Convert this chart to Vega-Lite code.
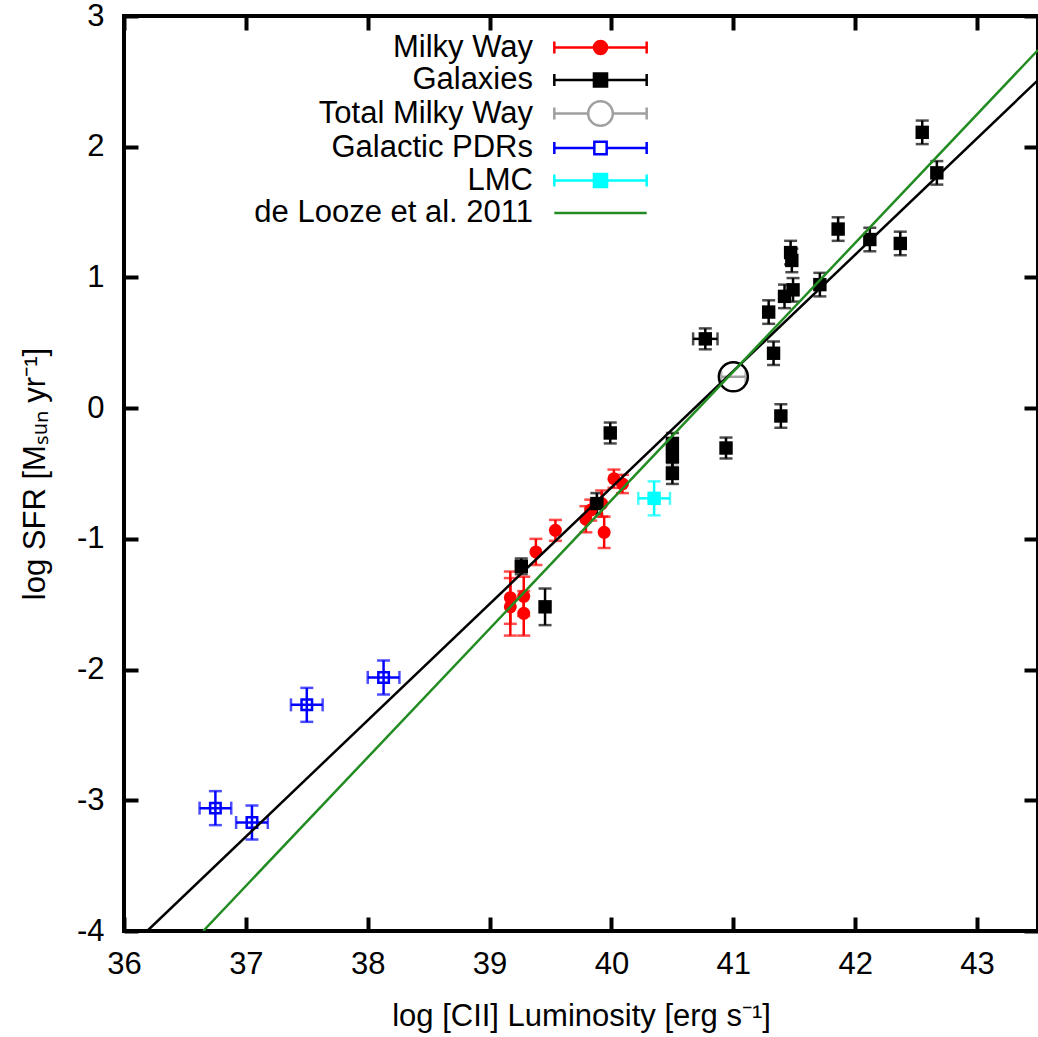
{
  "$schema": "https://vega.github.io/schema/vega-lite/v6.json",
  "autosize": {"type": "none"},
  "width": 914,
  "height": 915,
  "padding": {"left": 124, "top": 16, "right": 0, "bottom": 106},
  "background": "white",
  "config": {
    "view": {"stroke": "black", "strokeWidth": 4},
    "axis": {
      "domain": false, "grid": false, "tickSize": -14, "tickWidth": 4, "tickColor": "black",
      "labelFont": "Liberation Sans", "labelFontSize": 31, "labelColor": "black",
      "titleFont": "Liberation Sans", "titleFontSize": 31, "titleFontWeight": "normal", "titleColor": "black",
      "labelFlush": false, "labelOverlap": false
    },
    "legend": {
      "orient": "none", "legendX": 461, "legendY": 16, "padding": 0,
      "labelFont": "Liberation Sans", "labelFontSize": 31, "labelColor": "black",
      "labelAlign": "right", "labelOffset": -83, "labelLimit": 500,
      "symbolSize": 237, "symbolStrokeWidth": 2.5, "rowPadding": 0.5
    }
  },
  "datasets": {
    "pts": [
      {"group": "Milky Way", "x": 39.17, "y": -1.45, "ex": 0, "ey": 0.2},
      {"group": "Milky Way", "x": 39.17, "y": -1.52, "ex": 0, "ey": 0.22},
      {"group": "Milky Way", "x": 39.28, "y": -1.44, "ex": 0, "ey": 0.15},
      {"group": "Milky Way", "x": 39.28, "y": -1.57, "ex": 0, "ey": 0.17},
      {"group": "Milky Way", "x": 39.38, "y": -1.1, "ex": 0, "ey": 0.1},
      {"group": "Milky Way", "x": 39.54, "y": -0.935, "ex": 0, "ey": 0.08},
      {"group": "Milky Way", "x": 39.79, "y": -0.85, "ex": 0, "ey": 0.1},
      {"group": "Milky Way", "x": 39.83, "y": -0.78, "ex": 0, "ey": 0.08},
      {"group": "Milky Way", "x": 39.92, "y": -0.73, "ex": 0, "ey": 0.1},
      {"group": "Milky Way", "x": 39.94, "y": -0.95, "ex": 0, "ey": 0.12},
      {"group": "Milky Way", "x": 40.02, "y": -0.54, "ex": 0, "ey": 0.07},
      {"group": "Milky Way", "x": 40.09, "y": -0.58, "ex": 0, "ey": 0.07},
      {"group": "Galaxies", "x": 39.26, "y": -1.21, "ex": 0, "ey": 0.06},
      {"group": "Galaxies", "x": 39.455, "y": -1.52, "ex": 0, "ey": 0.14},
      {"group": "Galaxies", "x": 39.88, "y": -0.73, "ex": 0, "ey": 0.08},
      {"group": "Galaxies", "x": 39.99, "y": -0.19, "ex": 0, "ey": 0.08},
      {"group": "Galaxies", "x": 40.5, "y": -0.27, "ex": 0, "ey": 0.08},
      {"group": "Galaxies", "x": 40.5, "y": -0.37, "ex": 0, "ey": 0.08},
      {"group": "Galaxies", "x": 40.5, "y": -0.5, "ex": 0, "ey": 0.08},
      {"group": "Galaxies", "x": 40.77, "y": 0.53, "ex": 0.1, "ey": 0.08},
      {"group": "Galaxies", "x": 40.94, "y": -0.305, "ex": 0, "ey": 0.08},
      {"group": "Galaxies", "x": 41.29, "y": 0.735, "ex": 0, "ey": 0.09},
      {"group": "Galaxies", "x": 41.33, "y": 0.42, "ex": 0, "ey": 0.09},
      {"group": "Galaxies", "x": 41.39, "y": -0.06, "ex": 0, "ey": 0.09},
      {"group": "Galaxies", "x": 41.42, "y": 0.855, "ex": 0, "ey": 0.09},
      {"group": "Galaxies", "x": 41.49, "y": 0.905, "ex": 0, "ey": 0.09},
      {"group": "Galaxies", "x": 41.47, "y": 1.19, "ex": 0, "ey": 0.09},
      {"group": "Galaxies", "x": 41.48, "y": 1.13, "ex": 0, "ey": 0.09},
      {"group": "Galaxies", "x": 41.71, "y": 0.945, "ex": 0, "ey": 0.09},
      {"group": "Galaxies", "x": 41.86, "y": 1.37, "ex": 0, "ey": 0.09},
      {"group": "Galaxies", "x": 42.12, "y": 1.29, "ex": 0, "ey": 0.09},
      {"group": "Galaxies", "x": 42.37, "y": 1.26, "ex": 0, "ey": 0.09},
      {"group": "Galaxies", "x": 42.55, "y": 2.11, "ex": 0, "ey": 0.09},
      {"group": "Galaxies", "x": 42.67, "y": 1.8, "ex": 0, "ey": 0.09},
      {"group": "Total Milky Way", "x": 41.0, "y": 0.24, "ex": 0.1, "ey": 0},
      {"group": "Galactic PDRs", "x": 36.75, "y": -3.06, "ex": 0.13, "ey": 0.13},
      {"group": "Galactic PDRs", "x": 37.05, "y": -3.17, "ex": 0.13, "ey": 0.13},
      {"group": "Galactic PDRs", "x": 37.5, "y": -2.27, "ex": 0.13, "ey": 0.13},
      {"group": "Galactic PDRs", "x": 38.13, "y": -2.06, "ex": 0.13, "ey": 0.13},
      {"group": "LMC", "x": 40.35, "y": -0.69, "ex": 0.13, "ey": 0.13}
    ],
    "fits": [
      {"fit": "fit", "x": 36.19, "y": -4},
      {"fit": "fit", "x": 43.5, "y": 2.51},
      {"fit": "de Looze et al. 2011", "x": 36.65, "y": -4},
      {"fit": "de Looze et al. 2011", "x": 43.5, "y": 2.74}
    ]
  },
  "resolve": {"axis": {"x": "independent", "y": "independent"}},
  "layer": [
    {
      "data": {"name": "pts"},
      "transform": [{"filter": "datum.ey > 0"}],
      "mark": {"type": "errorbar", "ticks": {"size": 13, "thickness": 2.5}, "thickness": 2.5},
      "encoding": {
        "x": {"field": "x", "type": "quantitative", "scale": {"domain": [36, 43.5], "nice": false, "zero": false},
              "axis": {"orient": "bottom", "values": [36, 37, 38, 39, 40, 41, 42, 43], "labelExpr": "datum.value + ''", "labelPadding": 32, "titlePadding": 22, "title": "log [CII] Luminosity [erg s⁻¹]"}},
        "y": {"field": "y", "type": "quantitative", "scale": {"domain": [-4, 3], "nice": false, "zero": false},
              "axis": {"orient": "left", "values": [-4, -3, -2, -1, 0, 1, 2, 3], "labelExpr": "datum.value + ''", "labelPadding": 34, "titlePadding": 25, "title": "log SFR [Mₛᵤₙ yr⁻¹]"}},
        "yError": {"field": "ey"},
        "color": {"field": "group", "type": "nominal", "legend": null,
                  "scale": {"domain": ["Milky Way", "Galaxies", "Total Milky Way", "Galactic PDRs", "LMC", "fit", "de Looze et al. 2011"],
                            "range": ["#ff0000", "#000000", "#a0a0a0", "#0000ff", "#00ffff", "#000000", "#228b22"]}}
      }
    },
    {
      "data": {"name": "pts"},
      "transform": [{"filter": "datum.ex > 0"}],
      "mark": {"type": "errorbar", "ticks": {"size": 13, "thickness": 2.5}, "thickness": 2.5},
      "encoding": {
        "x": {"field": "x", "type": "quantitative", "axis": null},
        "xError": {"field": "ex"},
        "y": {"field": "y", "type": "quantitative", "axis": null},
        "color": {"field": "group", "type": "nominal", "legend": null}
      }
    },
    {
      "data": {"name": "pts"},
      "transform": [{"filter": "datum.group == 'Milky Way'"}],
      "mark": {"type": "point", "shape": "circle", "filled": true, "color": "#ff0000", "size": 169, "opacity": 1},
      "encoding": {
        "x": {"field": "x", "type": "quantitative", "axis": null},
        "y": {"field": "y", "type": "quantitative", "axis": null}
      }
    },
    {
      "data": {"name": "pts"},
      "transform": [{"filter": "datum.group == 'Galaxies'"}],
      "mark": {"type": "point", "shape": "square", "filled": true, "color": "#000000", "size": 180, "opacity": 1},
      "encoding": {
        "x": {"field": "x", "type": "quantitative", "axis": null},
        "y": {"field": "y", "type": "quantitative", "axis": null}
      }
    },
    {
      "data": {"name": "pts"},
      "transform": [{"filter": "datum.group == 'Total Milky Way'"}],
      "mark": {"type": "point", "shape": "circle", "filled": false, "stroke": "#000000", "fill": "transparent", "strokeWidth": 2.5, "size": 840, "opacity": 1},
      "encoding": {
        "x": {"field": "x", "type": "quantitative", "axis": null},
        "y": {"field": "y", "type": "quantitative", "axis": null}
      }
    },
    {
      "data": {"name": "pts"},
      "transform": [{"filter": "datum.group == 'Galactic PDRs'"}],
      "mark": {"type": "point", "shape": "square", "filled": false, "stroke": "#0000ff", "strokeWidth": 2.5, "size": 110, "opacity": 1},
      "encoding": {
        "x": {"field": "x", "type": "quantitative", "axis": null},
        "y": {"field": "y", "type": "quantitative", "axis": null}
      }
    },
    {
      "data": {"name": "pts"},
      "transform": [{"filter": "datum.group == 'LMC'"}],
      "mark": {"type": "point", "shape": "square", "filled": true, "color": "#00ffff", "size": 180, "opacity": 1},
      "encoding": {
        "x": {"field": "x", "type": "quantitative", "axis": null},
        "y": {"field": "y", "type": "quantitative", "axis": null}
      }
    },
    {
      "data": {"name": "fits"},
      "mark": {"type": "line", "strokeWidth": 2.5, "clip": true},
      "encoding": {
        "x": {"field": "x", "type": "quantitative",
              "axis": {"orient": "top", "labels": false, "title": null, "values": [36, 37, 38, 39, 40, 41, 42, 43]}},
        "y": {"field": "y", "type": "quantitative",
              "axis": {"orient": "right", "labels": false, "title": null, "values": [-4, -3, -2, -1, 0, 1, 2, 3]}},
        "color": {"field": "fit", "type": "nominal", "legend": null}
      }
    },
    {
      "data": {"name": "pts"},
      "transform": [{"filter": "false"}],
      "mark": {"type": "point", "opacity": 1, "strokeWidth": 2.5, "size": 237},
      "encoding": {
        "x": {"field": "x", "type": "quantitative", "axis": null},
        "y": {"field": "y", "type": "quantitative", "axis": null},
        "fill": {"field": "group", "type": "nominal", "title": null,
                 "scale": {"domain": ["Milky Way", "Galaxies", "Total Milky Way", "Galactic PDRs", "LMC", "de Looze et al. 2011"],
                           "range": ["#ff0000", "#000000", "transparent", "transparent", "#00ffff", "transparent"]}},
        "stroke": {"field": "group", "type": "nominal", "title": null,
                   "scale": {"domain": ["Milky Way", "Galaxies", "Total Milky Way", "Galactic PDRs", "LMC", "de Looze et al. 2011"],
                             "range": ["#ff0000", "#000000", "#a0a0a0", "#0000ff", "#00ffff", "#228b22"]}},
        "shape": {"field": "group", "type": "nominal", "title": null,
                  "scale": {"domain": ["Milky Way", "Galaxies", "Total Milky Way", "Galactic PDRs", "LMC", "de Looze et al. 2011"],
                            "range": [
                              "M-6,0H-0.85M0.85,0H6M-6,-0.78V0.78M6,-0.78V0.78M0.85,0A0.85,0.85,0,1,1,-0.85,0A0.85,0.85,0,1,1,0.85,0Z",
                              "M-6,0H-0.85M0.85,0H6M-6,-0.78V0.78M6,-0.78V0.78M-0.85,-0.85H0.85V0.85H-0.85Z",
                              "M-6,0H-1.6M1.6,0H6M-6,-0.78V0.78M6,-0.78V0.78M1.6,0A1.6,1.6,0,1,1,-1.6,0A1.6,1.6,0,1,1,1.6,0Z",
                              "M-6,0H-0.8M0.8,0H6M-6,-0.78V0.78M6,-0.78V0.78M-0.8,-0.8H0.8V0.8H-0.8Z",
                              "M-6,0H-0.85M0.85,0H6M-6,-0.78V0.78M6,-0.78V0.78M-0.85,-0.85H0.85V0.85H-0.85Z",
                              "M-6,0H6"
                            ]}}
      }
    }
  ]
}
